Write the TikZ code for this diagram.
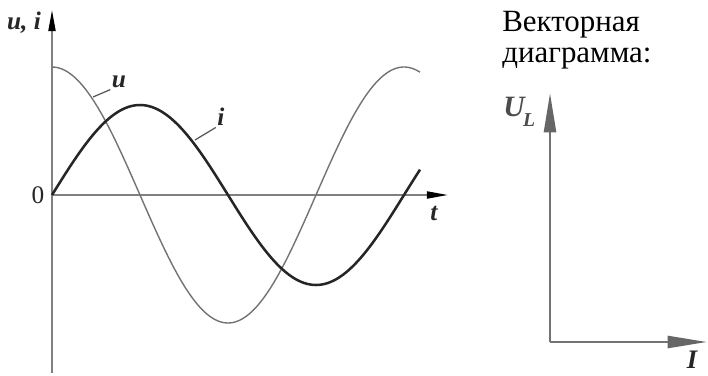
\documentclass[tikz,border=0pt]{standalone}
\usepackage{fontspec}
\setmainfont{Liberation Serif}
\usetikzlibrary{arrows.meta}

\begin{document}
\begin{tikzpicture}[x=0.025cm, y=0.025cm,
    axis/.style={line width=1.3pt, draw=black!50, -{Triangle[length=15pt, width=5pt, color=black]}},
    vect/.style={line width=1.9pt, draw=black!55, -{Triangle[length=28pt, width=8.5pt, color=black!60]}},
    lbl/.style={font=\fontsize{18}{18}\selectfont\itshape\bfseries, inner sep=1pt, text=black!85},
    title/.style={anchor=base west, font=\fontsize{22}{22}\selectfont, inner sep=0pt},
    leader/.style={line width=0.9pt, draw=black!65}]
    \useasboundingbox (0, 0) rectangle (708, 375);

    % оси u, i -- t
    \coordinate (O) at (52, 180);
    \coordinate (ybot) at (52, 2);
    \coordinate (ytop) at (52, 365);
    \coordinate (xend) at (448, 180);
    \draw[axis] (ybot) -- (ytop);
    \draw[axis] (O) -- (xend);
    \node[lbl] (uilabel) at (24, 352) {u, i};
    \node[font=\fontsize{18}{18}\selectfont, inner sep=0pt, text=black!85] (zero) at (38, 180) {0};
    \node[lbl] (tlabel) at (434, 162) {t};

    % кривые u и i (период 352)
    \begin{scope}[shift={(52, 180)}]
        \draw[line width=1pt, draw=black!55] plot[domain=0:368, samples=150, smooth]
            (\x, {128*cos(\x*1.022727)});
        \draw[line width=1.8pt, draw=black!85] plot[domain=0:368, samples=150, smooth]
            (\x, {90*sin(\x*1.022727)});
    \end{scope}

    % подписи кривых
    \node[lbl] (ulabel) at (119, 293) {u};
    \coordinate (uleader) at (93, 278);
    \draw[leader] (uleader) -- (ulabel.south west);
    \node[lbl] (ilabel) at (221, 258) {i};
    \coordinate (ileader) at (195, 235);
    \draw[leader] (ileader) -- (ilabel.south west);

    % векторная диаграмма
    \node[title] (title1) at (502, 343) {Векторная};
    \node[title] (title2) at (502, 312) {диаграмма:};
    \coordinate (V) at (550, 33);
    \coordinate (Vup) at (550, 282);
    \coordinate (Vright) at (707, 33);
    \draw[vect] (V) -- (Vup);
    \draw[vect] (V) -- (Vright);
    \node[anchor=base west, font=\fontsize{21}{21}\selectfont\itshape\bfseries, inner sep=0pt, text=black!70] (ULlabel) at (503, 258)
        {U\kern-1pt\raisebox{-6.5pt}{\fontsize{14}{14}\selectfont L}};
    \node[anchor=base, font=\fontsize{19}{19}\selectfont\itshape\bfseries, inner sep=0pt, text=black!85] (Ilabel) at (692, 7) {I};
\end{tikzpicture}
\end{document}
